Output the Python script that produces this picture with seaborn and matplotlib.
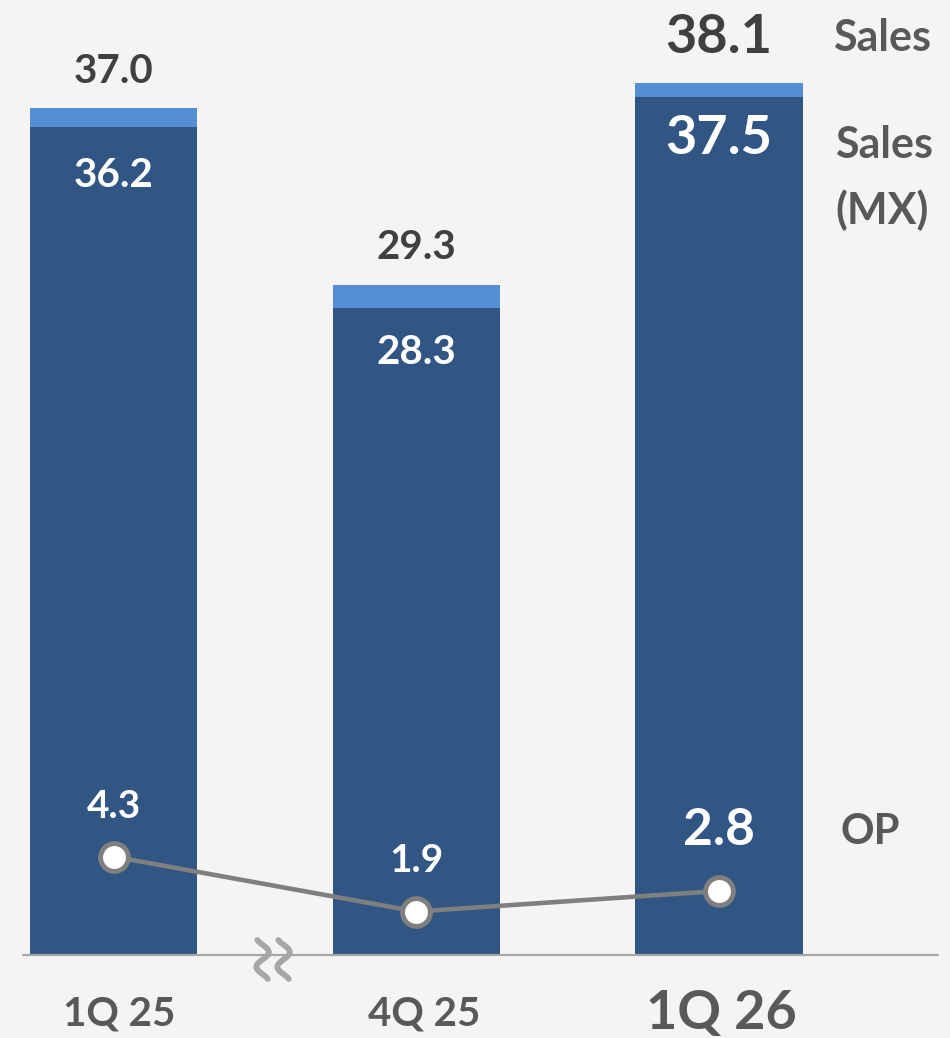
import numpy as np
import pandas as pd
import matplotlib
matplotlib.use("Agg")
import matplotlib.pyplot as plt
from matplotlib.transforms import IdentityTransform
import seaborn as sns

# Quarterly figures (KRW trillion)
quarters = ["1Q 25", "4Q 25", "1Q 26"]
sales_total = [37.0, 29.3, 38.1]
sales_mx = [36.2, 28.3, 37.5]
op_values = [4.3, 1.9, 2.8]

BG = "#f4f4f4"
LIGHT = "#558ed5"
DARK = "#315683"
GREY_LINE = "#7f7f7f"
TXT_DARK = "#404040"
TXT_MID = "#595959"

sns.set_style("white", {"axes.facecolor": BG, "figure.facecolor": BG})
plt.rcParams["font.family"] = ["Lato", "DejaVu Sans"]

df = pd.DataFrame({"quarter": quarters, "total": sales_total,
                   "mx": sales_mx, "op": op_values})

fig = plt.figure(figsize=(9.5, 10.38), dpi=100)
ax = fig.add_axes([0, 0, 1, 1])
ax.set_facecolor(BG)

bar_w = 0.552
sns.barplot(data=df, x="quarter", y="total", color=LIGHT, saturation=1,
            width=bar_w, ax=ax, linewidth=0)
sns.barplot(data=df, x="quarter", y="mx", color=DARK, saturation=1,
            width=bar_w, ax=ax, linewidth=0)

pos = np.arange(len(quarters))
sns.lineplot(x=pos, y=df["op"], ax=ax, color=GREY_LINE, linewidth=3.3,
             marker="o", markersize=20, markerfacecolor="white",
             markeredgecolor=GREY_LINE, markeredgewidth=3.5, zorder=5)

# scales: 22.88 px per unit, baseline 83 px above the bottom edge
ax.set_xlim(-0.375, 2.763)
ax.set_ylim(-3.628, 41.74)
ax.axis("off")
ax.axhline(0, xmin=0.024, xmax=0.987, color="#a6a6a6", linewidth=1.6, zorder=1)

px = 0.72  # points per pixel at 100 dpi

# total sales labels above the bars
tot_size = [29, 29, 39]
tot_off = [37, 37, 46]
for i, v in enumerate(sales_total):
    ax.annotate(f"{v:.1f}", (pos[i], v), xytext=(0, tot_off[i] * px),
                textcoords="offset points", ha="center", va="center",
                fontsize=tot_size[i], fontweight="bold", color=TXT_DARK)

# MX sales labels inside the dark segments
mx_size = [29, 29, 39]
mx_off = [49, 45, 41]
for i, v in enumerate(sales_mx):
    ax.annotate(f"{v:.1f}", (pos[i], v), xytext=(0, -mx_off[i] * px),
                textcoords="offset points", ha="center", va="center",
                fontsize=mx_size[i], fontweight="bold", color="white")

# operating profit labels
op_size = [28, 28, 37]
op_off = [50, 51, 60]
for i, v in enumerate(op_values):
    ax.annotate(f"{v:.1f}", (pos[i], v), xytext=(0, op_off[i] * px),
                textcoords="offset points", ha="center", va="center",
                fontsize=op_size[i], fontweight="bold", color="white", zorder=6)

# category labels under the baseline
q_size = [29, 29, 39]
q_dx = [6, 8, 2]
for i, q in enumerate(quarters):
    ax.annotate(q, (pos[i], 0), xytext=(q_dx[i] * px, -59 * px),
                textcoords="offset points", ha="center", va="center",
                fontsize=q_size[i], fontweight="bold", color=TXT_MID)

# series names on the right
ax.text(833 / 950, 1 - 38 / 1038, "Sales", transform=ax.transAxes,
        ha="left", va="center", fontsize=31, fontweight="bold", color=TXT_MID)
ax.text(835 / 950, 1 - 178 / 1038, "Sales\n(MX)", transform=ax.transAxes,
        ha="left", va="center", fontsize=31, fontweight="bold", color=TXT_MID,
        linespacing=1.72)
ax.text(841 / 950, 1 - 832 / 1038, "OP", transform=ax.transAxes,
        ha="left", va="center", fontsize=30, fontweight="bold", color=TXT_MID)

# axis break mark between the first two quarters: two reversed-S strokes
fig.canvas.draw()
bx, by = ax.transData.transform((0.527, 0.0))
s = np.linspace(-0.16, 1.16, 60)
for cx in (-10.5, 10.5):
    xs = bx + cx + 6.2 * np.sin(2 * np.pi * s)
    ys = by - 4.5 + 29.5 * (0.5 - s) * 1.0
    ax.plot(xs, ys, transform=IdentityTransform(), color="#a6a6a6",
            linewidth=4.2, solid_capstyle="round", zorder=7)

fig.savefig("out.png", dpi=100, facecolor=BG)
